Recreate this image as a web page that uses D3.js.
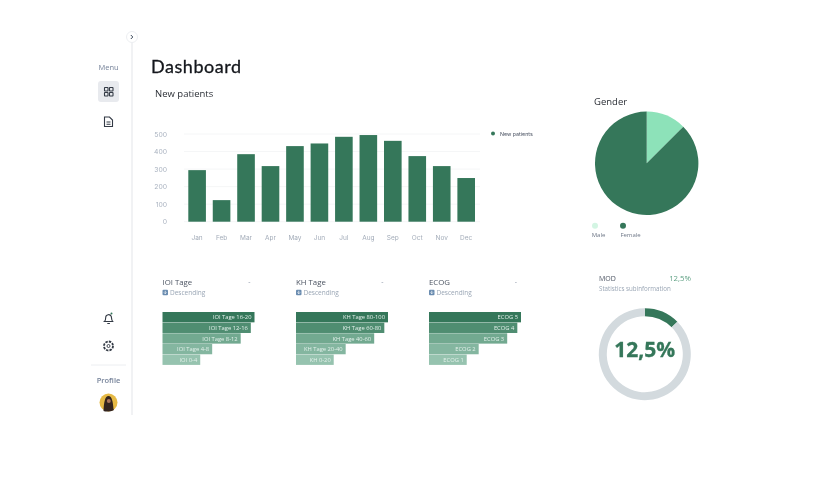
<!DOCTYPE html>
<html>
<head>
<meta charset="utf-8">
<script src="https://cdn.jsdelivr.net/npm/d3@7"></script>
<style>
html,body{margin:0;padding:0;background:#fff;}
svg{display:block;filter:blur(.4px);}
text{font-family:"Open Sans",sans-serif;}
.axis path,.axis line{display:none;}
</style>
</head>
<body>
<svg id="c" width="823" height="500"></svg>
<script>
const months = ["Jan","Feb","Mar","Apr","May","Jun","Jul","Aug","Sep","Oct","Nov","Dec"];
const newPatients = [294,123,385,317,431,446,484,494,461,374,317,249];
const yTicks = [0,100,200,300,400,500];
const ioiLabels = ["IOI Tage 16-20","IOI Tage 12-16","IOI Tage 8-12","IOI Tage 4-8","IOI 0-4"];
const khLabels = ["KH Tage 80-100","KH Tage 60-80","KH Tage 40-60","KH Tage 20-40","KH 0-20"];
const ecogLabels = ["ECOG 5","ECOG 4","ECOG 3","ECOG 2","ECOG 1"];
const funnelValues = [100,96,85,54,41];
const genderLabels = ["Male","Female"];
const genderValues = [12.5,87.5];
const modValue = 12.5;

const GREEN="#35775a", MINT="#8de2b9", PALE="#d3f5e3";
const svg=d3.select("#c");
const T=(x,y,s,size,fill,anchor,weight,family)=>{
  const t=svg.append("text").attr("x",x).attr("y",y).text(s).attr("font-size",size).attr("fill",fill)
    .attr("text-anchor",anchor||"start").attr("font-weight",weight||400);
  if(family) t.style("font-family",family);
  return t;
};

// Sidebar
svg.append("line").attr("x1",132).attr("x2",132).attr("y1",37).attr("y2",415).attr("stroke","#eceef1").attr("stroke-width",1.5);
svg.append("circle").attr("cx",132).attr("cy",37).attr("r",5.5).attr("fill","#fff").attr("stroke","#eceef1");
svg.append("path").attr("d","M130.8 35 L132.8 37 L130.8 39").attr("fill","none").attr("stroke","#3d4a5c").attr("stroke-width",1);
T(108.5,70,"Menu",7.5,"#76839a","middle");
svg.append("rect").attr("x",98).attr("y",81).attr("width",21).attr("height",21).attr("rx",3).attr("fill","#e8eaee");
[[104.5,87.5],[109.5,87.5],[104.5,92.5],[109.5,92.5]].forEach(p=>
  svg.append("rect").attr("x",p[0]).attr("y",p[1]).attr("width",3.5).attr("height",3.5).attr("rx",.4)
    .attr("fill","none").attr("stroke","#333a45").attr("stroke-width",1.1));
svg.append("path").attr("d","M104.500 117h5l3 3v6.500h-8z M106.500 122h4 M106.500 124.200h4").attr("fill","none").attr("stroke","#333a45").attr("stroke-width",1.1);
svg.append("path").attr("d","M104.500 321.500c1.200-1 1.200-2 1.200-4a2.900 2.900 0 0 1 5.600-1c.2 1 .1 3.600 1.400 5z M107.300 323.500h2.600").attr("fill","none").attr("stroke","#333a45").attr("stroke-width",1.100);
svg.append("circle").attr("cx",111.500).attr("cy",313.500).attr("r",1).attr("fill",GREEN);
svg.append("circle").attr("cx",108.500).attr("cy",346).attr("r",4.500).attr("fill","none").attr("stroke","#333a45").attr("stroke-width",1.800).attr("stroke-dasharray","2.400 1.100");
svg.append("circle").attr("cx",108.500).attr("cy",346).attr("r",1.500).attr("fill","none").attr("stroke","#333a45").attr("stroke-width",.9);
svg.append("line").attr("x1",91).attr("x2",126).attr("y1",365).attr("y2",365).attr("stroke","#eceef1");
T(108.500,383,"Profile",7.500,"#76839a","middle",600);
svg.append("circle").attr("cx",108.500).attr("cy",402.500).attr("r",9).attr("fill","#e5b945");
svg.append("path").attr("d","M103.500 411 C104 402 105 396 108.500 396 C112 396 113 402 113.500 409 L114 410 C111 411.600 106 412 103.500 411Z").attr("fill","#33241e");
svg.append("circle").attr("cx",108.800).attr("cy",401).attr("r",2).attr("fill","#a9745a");

// Titles
T(151,72.500,"Dashboard",18,"#14171c","start",400,"Lato").attr("letter-spacing",.55).attr("stroke","#14171c").attr("stroke-width",.3);
T(155,97,"New patients",9.500,"#2b2f36","start",400);

// Bar chart
const x=d3.scaleBand().domain(months).range([188.300,475]).paddingInner(.28).paddingOuter(0);
const y=d3.scaleLinear().domain([0,500]).range([221.700,134]);
svg.append("g").selectAll("line").data(yTicks).join("line")
  .attr("x1",184).attr("x2",480).attr("y1",d=>y(d)).attr("y2",d=>y(d)).attr("stroke","#f5f6f7");
svg.append("g").selectAll("rect").data(newPatients).join("rect")
  .attr("x",(d,i)=>x(months[i])).attr("width",x.bandwidth())
  .attr("y",d=>y(d)).attr("height",d=>y(0)-y(d)).attr("fill",GREEN);
const ay=svg.append("g").attr("class","axis").attr("transform","translate(167,0)")
  .call(d3.axisLeft(y).tickValues(yTicks).tickSize(0).tickPadding(0));
ay.selectAll("text").attr("font-size",6.800).attr("fill","#aab3c0").style("font-family","Inter");
const ax=svg.append("g").attr("class","axis").attr("transform","translate(0,235.500)")
  .call(d3.axisBottom(x).tickSize(0).tickPadding(0));
ax.selectAll("text").attr("font-size",6.500).attr("fill","#a3acb9").style("font-family","Inter");
svg.append("circle").attr("cx",493).attr("cy",133.500).attr("r",2).attr("fill",GREEN);
T(500,135.500,"New patients",5.300,"#4a5262","start",400,"Inter");

// Funnel bars
const fx=d3.scaleLinear().domain([0,100]).range([0,92]);
const fShades=["#35775a","#4f8d71","#72a990","#84b6a0","#96c3af"];
function funnel(x0,title,dashX,labels){
  T(x0,285,title,7.800,"#4c5462","start",400);
  T(dashX,284,"-",7,"#8a94a6","middle");
  svg.append("rect").attr("x",x0).attr("y",289.700).attr("width",5.500).attr("height",5.500).attr("rx",1).attr("fill","#6a8cb0");
  svg.append("path").attr("d",`M${x0+2.750} 290.800v2.800M${x0+1.500} 292.500l1.250 1.300l1.250-1.300`).attr("fill","none").attr("stroke","#fff").attr("stroke-width",.7);
  T(x0+7.500,295,"Descending",6.500,"#9aa6b5","start",400);
  const b=d3.scaleBand().domain(labels).range([312,365.200]);
  const g=svg.append("g");
  g.selectAll("rect").data(funnelValues).join("rect")
    .attr("x",x0).attr("y",(d,i)=>b(labels[i])).attr("width",d=>fx(d)).attr("height",b.bandwidth()-.3)
    .attr("fill",(d,i)=>fShades[i]);
  g.selectAll("text").data(funnelValues).join("text")
    .attr("x",d=>x0+fx(d)-3).attr("y",(d,i)=>b(labels[i])+b.bandwidth()/2+1.900)
    .attr("text-anchor","end").attr("font-size",5.800).attr("fill","#e2f0ea")
    .text((d,i)=>labels[i]);
}
funnel(162.500,"IOI Tage",249.300,ioiLabels);
funnel(296,"KH Tage",382.500,khLabels);
funnel(429,"ECOG",516,ecogLabels);

// Pie
T(594,105,"Gender",9.500,"#2b2f36","start",400);
const pie=d3.pie().sort(null)(genderValues);
const arc=d3.arc().innerRadius(0).outerRadius(51.700);
svg.append("g").attr("transform","translate(646.700,163.300)").selectAll("path").data(pie).join("path")
  .attr("d",arc).attr("fill",(d,i)=>[MINT,GREEN][i]);
svg.append("circle").attr("cx",595).attr("cy",225.700).attr("r",3).attr("fill",PALE);
svg.append("circle").attr("cx",623).attr("cy",225.700).attr("r",3).attr("fill",GREEN);
T(598.500,237,genderLabels[0],6,"#6e7787","middle");
T(630.500,237,genderLabels[1],6,"#6e7787","middle");

// Donut
const modText=modValue.toString().replace(".",",")+"%";
T(599,281,"MOD",7,"#4c5462");
T(691,281,modText,7.800,"#5fa184","end");
T(599,291.200,"Statistics subinformation",6.200,"#9aa6b5");
const dArc=d3.arc().innerRadius(38).outerRadius(46);
const dg=svg.append("g").attr("transform","translate(644.800,354.200)");
dg.selectAll("path").data(d3.pie().sort(null)([modValue,100-modValue])).join("path")
  .attr("d",dArc).attr("fill",(d,i)=>[GREEN,"#d3dade"][i]);
dg.append("text").attr("x",0).attr("y",-5).attr("dy",".35em").attr("text-anchor","middle")
  .attr("font-size",21).attr("font-weight",700).attr("fill",GREEN).attr("stroke",GREEN).attr("stroke-width",.3).text(modText);
</script>
</body>
</html>
